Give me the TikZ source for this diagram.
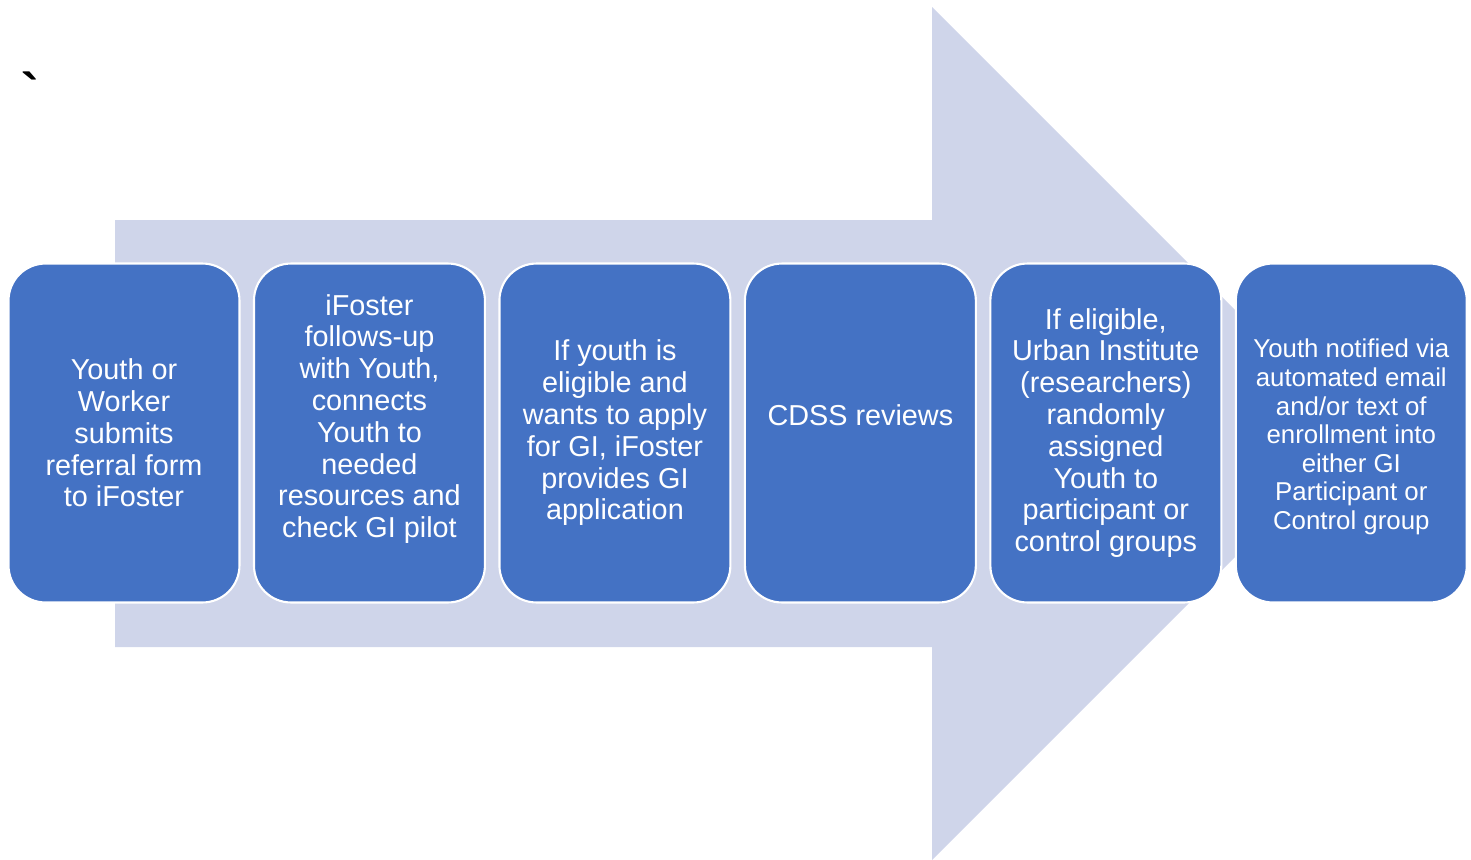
\documentclass[tikz,border=0pt]{standalone}
\usepackage{fontspec}
\setmainfont{Liberation Sans}
\usetikzlibrary{positioning}
\definecolor{stepblue}{HTML}{4472C4}
\definecolor{arrowfill}{HTML}{CFD5EA}

\begin{document}
\begin{tikzpicture}[x=0.02cm, y=-0.02cm,
    block_step/.style ={rectangle, rounded corners=0.74cm, draw=white, line width=1.2pt,
      fill=stepblue, minimum width=4.62cm, minimum height=6.78cm, inner sep=0pt},
    block_text/.style ={text=white, align=center, inner sep=0pt,
      font=\fontsize{16.4}{18.1}\selectfont},
    block_small/.style ={block_text, font=\fontsize{14.7}{16.3}\selectfont},
    big_arrow/.style ={fill=arrowfill, draw=none}]
    \useasboundingbox (0,0) rectangle (1471,859);
    % the big arrow behind the steps
    \fill[big_arrow] (115,220) -- (932,220) -- (932,7) -- (1358.5,433.5)
      -- (932,860) -- (932,647) -- (115,647) -- cycle;
    \node (tick) at (30,91) {\fontsize{30}{30}\selectfont\bfseries\textasciigrave};
    % the six step boxes
    \node [block_step] (s1) at (124,433) {};
    \node [block_step, right=0.248cm of s1] (s2) {};
    \node [block_step, right=0.248cm of s2] (s3) {};
    \node [block_step, right=0.248cm of s3] (s4) {};
    \node [block_step, right=0.248cm of s4] (s5) {};
    \node [block_step, right=0.248cm of s5] (s6) {};
    % texts of the steps
    \node [block_text] (t1) at (s1) {Youth or\\ Worker\\ submits\\ referral form\\ to iFoster};
    \node [block_text, yshift=0.28cm] (t2) at (s2) {iFoster\\ follows-up\\ with Youth,\\ connects\\
      Youth to\\ needed\\ resources and\\ check GI pilot};
    \node [block_text] (t3) at (s3) {If youth is\\ eligible and\\ wants to apply\\
      for GI, iFoster\\ provides GI\\ application};
    \node [block_text, yshift=0.36cm] (t4) at (s4) {CDSS reviews};
    \node [block_text] (t5) at (s5) {If eligible,\\ Urban Institute\\ (researchers)\\
      randomly\\ assigned\\ Youth to\\ participant or\\ control groups};
    \node [block_small, yshift=-0.08cm] (t6) at (s6) {Youth notified via\\ automated email\\ and/or text of\\
      enrollment into\\ either GI\\ Participant or\\ Control group};
\end{tikzpicture}
\end{document}
